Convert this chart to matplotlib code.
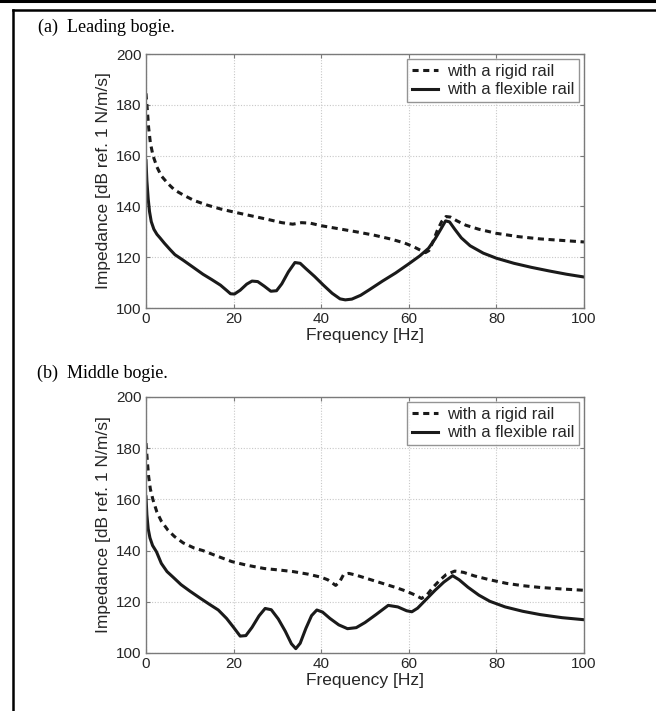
import matplotlib
matplotlib.use("Agg")
import matplotlib.pyplot as plt
from matplotlib.lines import Line2D

# Leading bogie (a)
freq_a_rigid = [0.0, 0.3, 0.6, 1.0, 1.6, 2.5, 3.5, 5.0, 6.5, 8.5, 11, 14, 17, 20, 24, 28, 31,
                33.5, 35.5, 37.5, 40, 44, 48, 52, 56, 59, 61, 62.6, 63.8, 64.6, 65.5, 66.5,
                67.5, 68.5, 69.5, 71, 73, 76, 80, 85, 90, 95, 100]
imp_a_rigid = [184.5, 178, 171, 165, 160, 155.5, 152, 149, 146.5, 144.5, 142.3, 140.5, 139, 137.8,
               136.3, 134.8, 133.6, 133.0, 133.6, 133.4, 132.4, 131.2, 130.0, 128.7, 127.1, 125.6,
               124.2, 122.8, 121.8, 122.6, 126.0, 130.5, 134.0, 136.0, 135.8, 134.3, 132.6, 131.0,
               129.4, 128.1, 127.2, 126.6, 126.0]

freq_a_flex = [0.0, 0.2, 0.5, 0.8, 1.2, 1.8, 2.5, 3.2, 4.2, 5.5, 6.6, 8.5, 10.8, 13, 15, 17, 18.5,
               19.3, 20.2, 21.5, 23, 24.2, 25.5, 27, 28.5, 29.8, 31, 32.5, 34.0, 35.2, 36.5,
               38.5, 40.5, 42.5, 44.3, 45.5, 47, 49, 51, 54, 57, 60, 62.5, 64.5, 66, 67.3, 68.4,
               69.3, 70.5, 72, 74, 77, 80, 84, 88, 92, 96, 100]
imp_a_flex = [158, 150, 143, 138, 134, 131, 129, 127.6, 125.5, 123, 121, 118.8, 116, 113.3, 111.2,
              109, 106.8, 105.6, 105.5, 107.0, 109.4, 110.6, 110.4, 108.6, 106.6, 106.8, 109.5,
              114.2, 117.9, 117.6, 115.5, 112.4, 109.0, 105.8, 103.6, 103.2, 103.5, 105.0,
              107.2, 110.6, 113.8, 117.4, 120.5, 123.5, 127.2, 131.0, 134.3, 133.9, 131.0,
              127.6, 124.5, 121.6, 119.6, 117.6, 116.0, 114.6, 113.3, 112.2]

# Middle bogie (b)
freq_b_rigid = [0.0, 0.3, 0.6, 1.0, 1.6, 2.5, 3.5, 5.0, 6.5, 8.5, 11, 13, 16, 19.6, 23, 27, 30.5,
                33.6, 37, 40, 41.5, 42.5, 43.3, 44.2, 45.1, 46.3, 48, 51, 54, 57, 59.5, 61.5,
                62.9, 64.2, 65.5, 67, 68.5, 70.5, 72.5, 75, 78.5, 82.3, 86, 90, 95, 100]
imp_b_rigid = [182, 175, 169, 164, 159.8, 155, 151.5, 148, 145.5, 143, 141, 140, 138, 135.7,
               134.3, 133, 132.4, 131.8, 130.8, 129.6, 128.6, 127.4, 126.4, 127.8, 130.6, 131.1,
               130.4, 128.8, 127.2, 125.6, 124.1, 122.6, 121.3, 122.8, 125.6, 128.3, 130.6,
               132.0, 131.5, 130.1, 128.6, 127.2, 126.3, 125.6, 125.0, 124.5]

freq_b_flex = [0.0, 0.2, 0.5, 0.9, 1.5, 2.4, 3.5, 4.8, 6.2, 8, 10, 12.3, 14.5, 16.5, 18.4, 20,
               21.5, 22.8, 24.2, 25.8, 27.2, 28.6, 30.2, 31.8, 33.2, 34.2, 35.2, 36.5, 37.8, 39,
               40.3, 42, 44, 46, 48, 50, 52.5, 55.3, 57.5, 59.5, 60.7, 62, 64, 66, 68, 70,
               71.5, 73.5, 76, 78.5, 82, 86, 90, 95, 100]
imp_b_flex = [161, 154, 148.5, 145, 142, 139.5, 135, 131.8, 129.6, 126.7, 124.2, 121.5, 119.0,
              116.8, 113.5, 110.0, 106.6, 106.8, 110.0, 114.5, 117.4, 116.9, 113.3, 108.5,
              103.6, 101.7, 103.8, 109.6, 114.6, 116.8, 116.0, 113.5, 111.0, 109.5, 109.9,
              111.9, 115.0, 118.6, 118.0, 116.5, 116.1, 117.5, 121.0, 124.5, 127.7, 130.2,
              128.6, 125.7, 122.6, 120.2, 118.0, 116.3, 115.0, 113.8, 113.0]

x_ticks = [0, 20, 40, 60, 80, 100]
y_ticks = [100, 120, 140, 160, 180, 200]
series_labels = ["with a rigid rail", "with a flexible rail"]
panel_titles = ["(a)  Leading bogie.", "(b)  Middle bogie."]
x_label = "Frequency [Hz]"
y_label = "Impedance [dB ref. 1 N/m/s]"

W, H = 656, 711
fig = plt.figure(figsize=(W / 100, H / 100), dpi=100)
fig.patch.set_facecolor("white")

sans = ["Liberation Sans", "DejaVu Sans"]
serif = ["Liberation Serif", "DejaVu Serif"]

# axes rectangles in pixels: left, top, right, bottom
boxes = [(146, 54, 584, 308), (146, 397, 584, 653)]
title_pos = [(38, 27), (37, 373)]
panels = [
    (freq_a_rigid, imp_a_rigid, freq_a_flex, imp_a_flex),
    (freq_b_rigid, imp_b_rigid, freq_b_flex, imp_b_flex),
]

spine_col = "#7a7a7a"
text_col = "#262626"
for (l, t, r, b), (fr, ir, ff, iff), title, (tx, ty) in zip(boxes, panels, panel_titles, title_pos):
    ax = fig.add_axes([l / W, 1 - b / H, (r - l) / W, (b - t) / H])
    ax.plot(fr, ir, color="#1a1a1a", lw=2.2, ls=(0, (2.0, 1.5)), label=series_labels[0])
    ax.plot(ff, iff, color="#1a1a1a", lw=2.2, ls="-", label=series_labels[1])
    ax.set_xlim(0, 100)
    ax.set_ylim(100, 200)
    ax.set_xticks(x_ticks)
    ax.set_yticks(y_ticks)
    ax.grid(True, color="#c8c8c8", ls=(0, (1, 1.5)), lw=0.8)
    ax.tick_params(direction="in", top=True, right=True, length=3, width=0.8,
                   color=spine_col, labelsize=11, pad=3, labelcolor=text_col)
    for lab in ax.get_xticklabels() + ax.get_yticklabels():
        lab.set_family(sans)
    for sp in ax.spines.values():
        sp.set_color(spine_col)
        sp.set_linewidth(1.0)
    ax.set_xlabel(x_label, family=sans, fontsize=12.5, color=text_col, labelpad=1)
    ax.set_ylabel(y_label, family=sans, fontsize=12.5, color=text_col, labelpad=4)
    leg = ax.legend(loc="upper right", prop={"family": sans, "size": 12},
                    frameon=True, fancybox=False, borderaxespad=0.3,
                    handlelength=1.6, handletextpad=0.5, borderpad=0.3,
                    labelspacing=0.2, labelcolor=text_col)
    leg.get_frame().set_edgecolor(spine_col)
    leg.get_frame().set_linewidth(1.0)
    fig.text(tx / W, 1 - ty / H, title, family=serif, fontsize=13,
             color="black", va="center", ha="left")

# page frame lines
fig.add_artist(Line2D([0, 1], [1 - 1 / H, 1 - 1 / H], transform=fig.transFigure,
                      color="black", lw=2.2))
fig.add_artist(Line2D([12.5 / W, 1], [1 - 10 / H, 1 - 10 / H], transform=fig.transFigure,
                      color="black", lw=1.8))
fig.add_artist(Line2D([13 / W, 13 / W], [0, 1 - 10 / H], transform=fig.transFigure,
                      color="black", lw=1.8))

fig.savefig("out.png", dpi=100)
